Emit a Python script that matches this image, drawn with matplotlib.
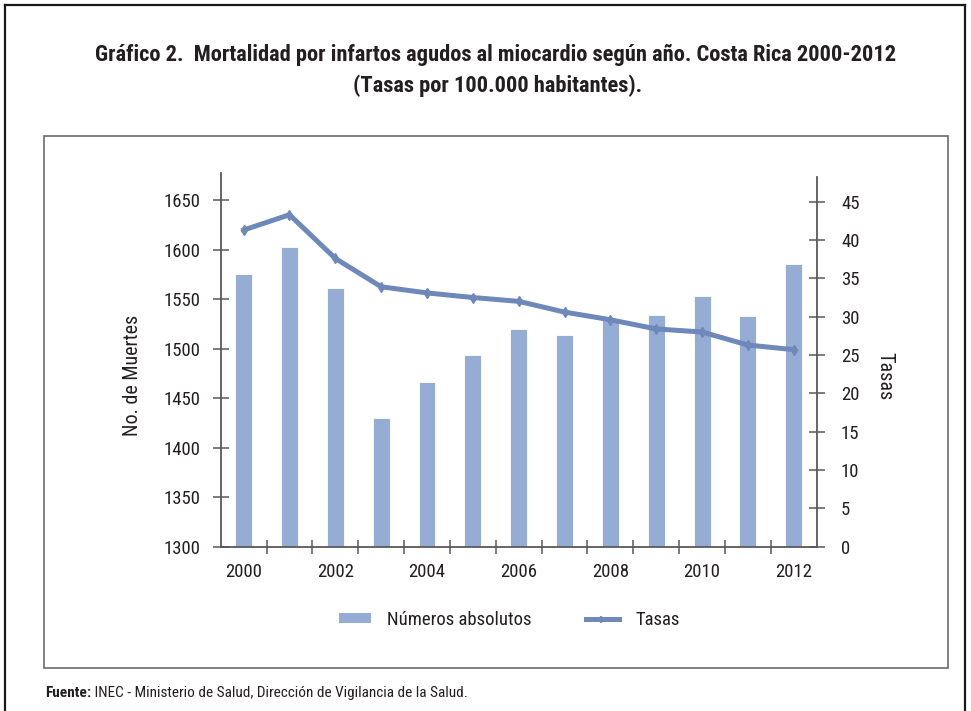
import matplotlib
matplotlib.use("Agg")
import matplotlib.pyplot as plt
from matplotlib.lines import Line2D
from matplotlib.patches import Rectangle, Patch
import numpy as np

years = list(range(2000, 2013))
muertes = [1575, 1603, 1561, 1430, 1466, 1494, 1520, 1514, 1529, 1534, 1553, 1533, 1585]
tasas = [41.3, 43.3, 37.6, 33.9, 33.1, 32.5, 32.0, 30.6, 29.6, 28.4, 28.0, 26.3, 25.7]
left_ticks = [1300, 1350, 1400, 1450, 1500, 1550, 1600, 1650]
right_ticks = [0, 5, 10, 15, 20, 25, 30, 35, 40, 45]
xlabels = ["2000", "2002", "2004", "2006", "2008", "2010", "2012"]

title1 = "Gráfico 2.  Mortalidad por infartos agudos al miocardio según año. Costa Rica 2000-2012"
title2 = "(Tasas por 100.000 habitantes)."
fuente_b = "Fuente:"
fuente_r = " INEC - Ministerio de Salud, Dirección de Vigilancia de la Salud."

FAM = ["Roboto Condensed", "Pragati Narrow", "Liberation Sans", "DejaVu Sans"]
plt.rcParams['font.family'] = FAM
TXT = "#231F20"
AX = "#595959"
BAR = "#95ADD5"
LINE = "#6E88B9"

W, H = 971, 711
fig = plt.figure(figsize=(W / 100, H / 100), dpi=100)

def fx(px):
    return px / W

def fy(py):
    return 1 - py / H

# frames
fig.add_artist(Line2D([fx(5), fx(5)], [fy(711), fy(5)], color="#1a1a1a", lw=1.6))
fig.add_artist(Line2D([fx(5), fx(965)], [fy(5), fy(5)], color="#1a1a1a", lw=1.6))
fig.add_artist(Line2D([fx(965), fx(965)], [fy(5), fy(711)], color="#1a1a1a", lw=1.6))
fig.add_artist(Rectangle((fx(44), fy(668)), fx(948) - fx(44), fy(136) - fy(668),
                         transform=fig.transFigure, fill=False, edgecolor="#6b6b6b", lw=1.2))

fig.text(fx(496), fy(55), title1, ha="center", va="center", fontsize=16.2,
         fontweight="bold", color=TXT)
fig.text(fx(498), fy(86), title2, ha="center", va="center", fontsize=16.2,
         fontweight="bold", color=TXT)

ax = fig.add_axes([fx(220.7), fy(546.7), fx(816.7) - fx(220.7), fy(172.7) - fy(546.7)])
x = np.arange(len(years))
ax.bar(x, np.array(muertes) - 1300, bottom=1300, width=0.37, color=BAR,
       edgecolor="white", linewidth=0.6, zorder=2)
ax.set_xlim(-0.5, len(years) - 0.5)
ax.set_ylim(1300, 1677.6)
ax.set_yticks(left_ticks)
ax.set_yticklabels([str(v) for v in left_ticks])
ax.set_xticks(np.arange(0.5, len(years) - 0.5, 1.0))
ax.set_xticklabels([])
ax.set_xticks(np.arange(0, len(years), 2), minor=True)
ax.set_xticklabels(xlabels, minor=True)
ax.tick_params(axis="x", which="major", direction="inout", length=10, width=1.1, color=AX)
ax.tick_params(axis="x", which="minor", length=0, pad=12, labelsize=13.5, labelcolor=TXT)
ax.tick_params(axis="y", direction="inout", length=11, width=1.1, color=AX,
               labelsize=13.5, labelcolor=TXT, pad=9)
for s in ["top", "right"]:
    ax.spines[s].set_visible(False)
for s in ["left", "bottom"]:
    ax.spines[s].set_color(AX)
    ax.spines[s].set_linewidth(1.3)
ax.set_ylabel("No. de Muertes", fontsize=14.5, color=TXT, va="center")
ax.yaxis.set_label_coords((132 - 220.7) / 596, (546.7 - 375) / 374)

ax2 = ax.twinx()
ax2.plot(x, tasas, color=LINE, lw=3.6, marker="d", ms=5, mfc=LINE, mec=LINE, zorder=3)
ax2.set_ylim(0, 48.78)
ax2.set_yticks(right_ticks)
ax2.set_yticklabels([str(v) for v in right_ticks])
ax2.tick_params(axis="y", direction="inout", length=11, width=1.1, color=AX,
                labelsize=13.5, labelcolor=TXT, pad=12)
for s in ["top", "left", "bottom"]:
    ax2.spines[s].set_visible(False)
ax2.spines["right"].set_color(AX)
ax2.spines["right"].set_linewidth(1.3)
ax2.spines["right"].set_bounds(0, 48.2)
ax2.set_ylabel("Tasas", fontsize=14.5, color=TXT, rotation=-90, va="center")
ax2.yaxis.set_label_coords((885 - 220.7) / 596, (546.7 - 376) / 374)

handles = [Patch(facecolor=BAR, edgecolor="none"),
           Line2D([0], [0], color=LINE, lw=3.6, marker=">", ms=5, markevery=[1])]
fig.legend(handles, ["Números absolutos", "Tasas"], loc="center",
           bbox_to_anchor=(fx(509), fy(620)), ncol=2, frameon=False, fontsize=13.5,
           handlelength=1.75, handleheight=0.45, handletextpad=0.85, columnspacing=2.9,
           labelcolor=TXT)

fb = fig.text(fx(45), fy(693), fuente_b, fontsize=11, fontweight="bold", color=TXT,
              ha="left", va="center")
fig.canvas.draw()
bb = fb.get_window_extent(renderer=fig.canvas.get_renderer())
fig.text(bb.x1 / W, fy(693), fuente_r, fontsize=11, color=TXT, ha="left", va="center")

fig.savefig("out.png", dpi=100)
